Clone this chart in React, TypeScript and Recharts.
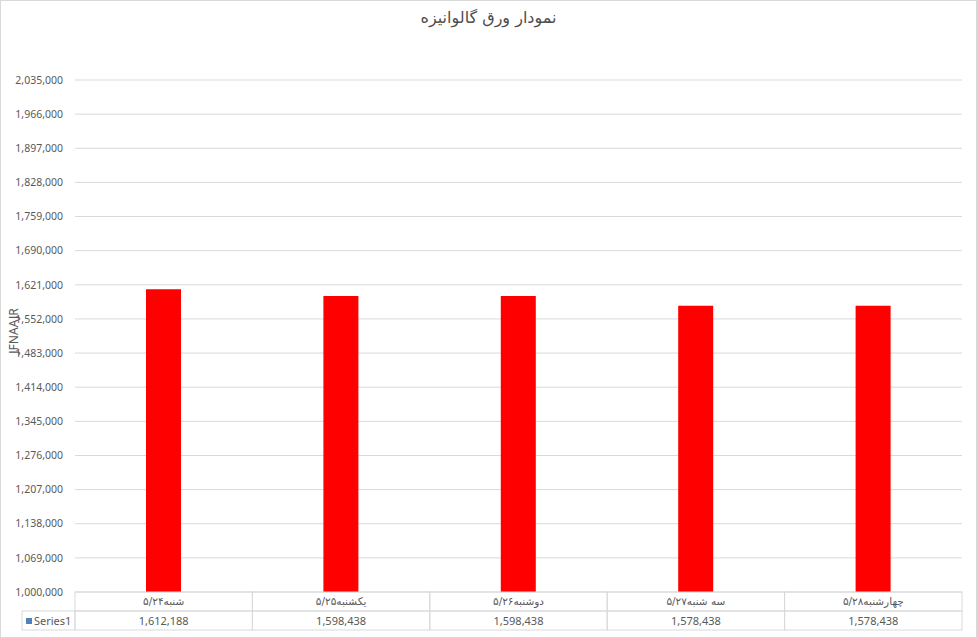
import { BarChart, Bar, XAxis, YAxis, CartesianGrid } from "recharts";

const categories = ["شنبه۵/۲۴", "یکشنبه۵/۲۵", "دوشنبه۵/۲۶", "سه شنبه۵/۲۷", "چهارشنبه۵/۲۸"];
const series1 = [1612188, 1598438, 1598438, 1578438, 1578438];
const yTicks = [
    1000000, 1069000, 1138000, 1207000, 1276000, 1345000, 1414000, 1483000,
    1552000, 1621000, 1690000, 1759000, 1828000, 1897000, 1966000, 2035000,
];
const seriesName = "Series1";
const title = "نمودار ورق گالوانیزه";
const yAxisTitle = "JFNAAJR";

const data = categories.map((c, i) => ({ name: c, value: series1[i] }));

const W = 977;
const H = 638;
const PLOT_LEFT = 75;
const PLOT_RIGHT = 962;
const BAND = (PLOT_RIGHT - PLOT_LEFT) / categories.length;
const GRID = "#d9d9d9";
const TEXT = "#595959";
const FONT = "'Noto Sans', 'DejaVu Sans', sans-serif";

// data table under the plot, drawn as the x axis ticks
function TableTick(props: any) {
    const { x, y, payload } = props;
    const i = payload.index;
    const left = x - BAND / 2;
    return (
        <g>
            <rect x={left} y={y} width={BAND} height={19} fill="none" stroke={GRID} />
            <rect x={left} y={y + 19} width={BAND} height={19} fill="none" stroke={GRID} />
            <text x={x} y={y + 13} textAnchor="middle" fontSize={10.5} fill={TEXT} fontFamily="'DejaVu Sans', sans-serif">
                {payload.value}
            </text>
            <text x={x} y={y + 33} textAnchor="middle" fontSize={11} fill={TEXT} fontFamily={FONT}>
                {series1[i].toLocaleString("en-US")}
            </text>
            {i === 0 && (
                <g>
                    <rect x={left - 53} y={y + 19} width={53} height={19} fill="none" stroke={GRID} />
                    <rect x={left - 49} y={y + 26} width={6} height={6} fill="#4f81bd" />
                    <text x={left - 41} y={y + 33} fontSize={11} fill={TEXT} fontFamily={FONT}>
                        {seriesName}
                    </text>
                </g>
            )}
        </g>
    );
}

export default function App() {
    return (
        <div style={{ position: "absolute", left: 0, top: 0, width: W, height: H, background: "#fff" }}>
            <div
                style={{
                    position: "absolute", left: 0, top: 0, width: W - 2, height: H - 2,
                    border: `1px solid ${GRID}`, pointerEvents: "none",
                }}
            />
            <div
                style={{
                    position: "absolute", left: 0, top: 8, width: W, textAlign: "center",
                    fontFamily: "'DejaVu Sans', sans-serif", fontSize: 16, color: "#4d4d4d",
                }}
            >
                {title}
            </div>
            <div
                style={{
                    position: "absolute", left: 13, top: 331, transform: "translate(-50%, -50%) rotate(-90deg)",
                    fontFamily: FONT, fontSize: 12, color: TEXT, whiteSpace: "nowrap",
                }}
            >
                {yAxisTitle}
            </div>
            <BarChart
                width={W}
                height={H}
                data={data}
                margin={{ top: 80, right: W - PLOT_RIGHT, bottom: 6, left: 0 }}
                barSize={35}
            >
                <CartesianGrid vertical={false} stroke={GRID} />
                <YAxis
                    width={PLOT_LEFT}
                    domain={[1000000, 2035000]}
                    ticks={yTicks}
                    interval={0}
                    tickFormatter={(v) => v.toLocaleString("en-US")}
                    axisLine={false}
                    tickLine={false}
                    tickSize={0}
                    tickMargin={12}
                    tick={{ fill: TEXT, fontSize: 10.5, fontFamily: FONT }}
                />
                <XAxis
                    dataKey="name"
                    height={40}
                    axisLine={false}
                    tickLine={false}
                    tickSize={0}
                    tickMargin={0}
                    interval={0}
                    tick={<TableTick />}
                />
                <Bar dataKey="value" fill="#ff0000" isAnimationActive={false} />
            </BarChart>
        </div>
    );
}
